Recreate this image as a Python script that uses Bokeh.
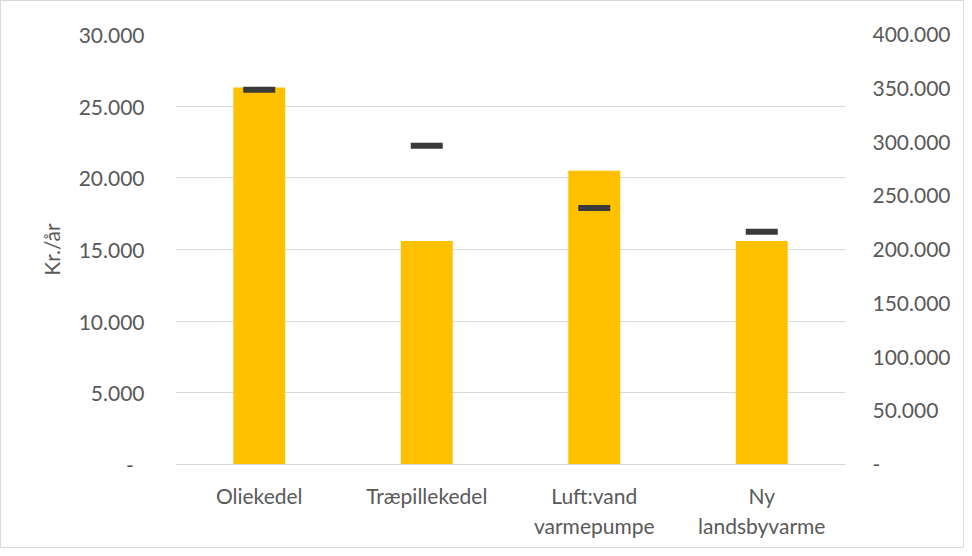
from bokeh.plotting import figure
from bokeh.models import Range1d, LinearAxis, FixedTicker, ColumnDataSource, FactorRange
from bokeh.embed import file_html
from bokeh.resources import INLINE

categories = ["Oliekedel", "Træpillekedel", "Luft:vand\nvarmepumpe", "Ny\nlandsbyvarme"]
bar_values = [26300, 15600, 20500, 15600]          # Kr./år (left axis)
marker_values = [348700, 296600, 238700, 216400]   # right axis
left_ticks = [0, 5000, 10000, 15000, 20000, 25000, 30000]
right_ticks = [0, 50000, 100000, 150000, 200000, 250000, 300000, 350000, 400000]
y_label = "Kr./år"

def fmt(v):
    return "-" if v == 0 else f"{v:,}".replace(",", ".")

FONT = "Lato"
TXT = "#595959"
GRID = "#d9d9d9"

src = ColumnDataSource(dict(cat=categories, bar=bar_values, mark=marker_values))

p = figure(width=964, height=548, x_range=FactorRange(*categories),
           y_range=Range1d(0, 30000), output_backend="svg", toolbar_location=None,
           min_border_left=174, min_border_right=120, min_border_top=33, min_border_bottom=85)
p.extra_y_ranges = {"right": Range1d(0, 400000)}
p.outline_line_color = None
p.styles = {"border": "1px solid #d9d9d9"}

p.vbar(x="cat", top="bar", width=0.31, source=src, color="#FFC000", line_color=None)
p.rect(x="cat", y="mark", width=32, height=6, width_units="screen", height_units="screen",
       source=src, y_range_name="right", fill_color="#3a3a3a", line_color=None)

p.xgrid.grid_line_color = None
p.ygrid.grid_line_color = GRID
p.ygrid.ticker = FixedTicker(ticks=left_ticks)

la = p.yaxis[0]
la.ticker = FixedTicker(ticks=left_ticks)
la.major_label_overrides = {t: (fmt(t) if t else "-\u00a0\u00a0") for t in left_ticks}
la.axis_line_color = None
la.major_tick_line_color = None
la.minor_tick_line_color = None
la.major_label_standoff = 25
la.axis_label = y_label
la.axis_label_standoff = 12

ra = LinearAxis(y_range_name="right", ticker=FixedTicker(ticks=right_ticks))
ra.major_label_overrides = {t: fmt(t) for t in right_ticks}
ra.axis_line_color = None
ra.major_tick_line_color = None
ra.minor_tick_line_color = None
ra.major_label_standoff = 21
p.add_layout(ra, "right")

xa = p.xaxis[0]
xa.axis_line_color = GRID
xa.major_tick_line_color = None
xa.minor_tick_line_color = None
xa.major_label_standoff = 12

for ax in (la, ra, xa):
    ax.major_label_text_font = FONT
    ax.major_label_text_font_size = "21px"
    ax.major_label_text_color = TXT
    ax.axis_label_text_font = FONT
    ax.axis_label_text_font_size = "21px"
    ax.axis_label_text_font_style = "normal"
    ax.axis_label_text_color = TXT

open("out.html", "w").write(file_html(p, INLINE))
